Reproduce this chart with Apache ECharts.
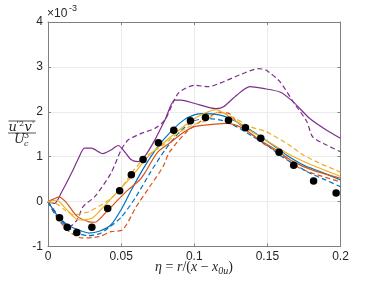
<!DOCTYPE html>
<html><head><meta charset="utf-8">
<script src="https://cdn.jsdelivr.net/npm/echarts@6/dist/echarts.min.js"></script>
<style>html,body{margin:0;padding:0;background:#fff}#c{width:376px;height:282px}</style>
</head><body><div id="c"></div>
<script>
// values in units of 1e-3
const xTicks = ['0', '0.05', '0.1', '0.15', '0.2'];
const yTicks = ['-1', '0', '1', '2', '3', '4'];

const etaDots = [0.0079,0.0131,0.0197,0.030,0.0408,0.049,0.057,0.065,0.0755,0.086,0.0974,0.1077,0.1234,0.135,0.1455,0.158,0.168,0.1816,0.197];
const valDots = [-0.36,-0.57,-0.69,-0.57,-0.155,0.24,0.60,0.94,1.31,1.59,1.80,1.875,1.81,1.645,1.41,1.10,0.81,0.46,0.19];

const etaBlueS = [0,0.005,0.01,0.015,0.02,0.028,0.035,0.043,0.05,0.057,0.066,0.075,0.084,0.093,0.1,0.106,0.117,0.129,0.14,0.152,0.163,0.175,0.186,0.2];
const valBlueS = [0,-0.25,-0.45,-0.55,-0.62,-0.70,-0.66,-0.52,-0.18,0.26,0.78,1.22,1.56,1.82,1.93,1.96,1.93,1.78,1.56,1.30,1.04,0.81,0.67,0.48];

const etaBlueD = [0,0.005,0.01,0.015,0.02,0.027,0.035,0.04,0.05,0.06,0.07,0.08,0.09,0.1,0.11,0.12,0.13,0.14,0.15,0.16,0.17,0.18,0.19,0.2];
const valBlueD = [0,-0.28,-0.48,-0.60,-0.70,-0.76,-0.72,-0.62,-0.35,0.10,0.65,1.15,1.55,1.80,1.85,1.80,1.65,1.45,1.25,1.00,0.80,0.62,0.48,0.33];

const etaOrangeS = [0,0.004,0.0074,0.012,0.02,0.028,0.032,0.0387,0.0467,0.0547,0.0627,0.066,0.075,0.083,0.0935,0.1,0.106,0.122,0.1335,0.1449,0.156,0.1677,0.181,0.2];
const valOrangeS = [0,0.06,0.10,0.0,-0.33,-0.45,-0.46,-0.27,0.0,0.26,0.48,0.63,1.10,1.30,1.56,1.67,1.70,1.74,1.63,1.37,1.15,0.89,0.70,0.52];

const etaOrangeD = [0,0.005,0.01,0.015,0.023,0.035,0.043,0.051,0.0604,0.0695,0.0787,0.083,0.0947,0.106,0.117,0.124,0.129,0.147,0.1586,0.17,0.181,0.2];
const valOrangeD = [0,-0.30,-0.52,-0.68,-0.81,-0.78,-0.67,-0.63,-0.11,0.33,0.78,1.10,1.55,1.82,1.98,1.96,1.78,1.30,1.07,0.78,0.63,0.44];

const etaYellowS = [0,0.006,0.012,0.021,0.03,0.035,0.0467,0.058,0.0695,0.0787,0.088,0.097,0.106,0.115,0.124,0.1346,0.15,0.165,0.18,0.2];
const valYellowS = [0,0.03,-0.15,-0.41,-0.37,-0.22,0.19,0.59,1.04,1.30,1.55,1.78,1.95,2.05,1.89,1.65,1.35,1.05,0.82,0.56];

const etaYellowD = [0,0.006,0.012,0.018,0.025,0.0284,0.04,0.049,0.058,0.067,0.0787,0.09,0.1,0.108,0.117,0.128,0.138,0.149,0.163,0.1745,0.186,0.197,0.2];
const valYellowD = [0,-0.05,-0.20,-0.30,-0.25,-0.22,0.0,0.26,0.67,1.00,1.26,1.55,1.72,1.80,2.00,1.85,1.67,1.56,1.30,1.04,0.85,0.70,0.65];

const etaPurpleS = [0,0.0045,0.009,0.016,0.0204,0.025,0.0296,0.0375,0.043,0.048,0.0524,0.057,0.0615,0.066,0.073,0.08,0.0866,0.091,0.1,0.115,0.12,0.129,0.138,0.147,0.1586,0.1677,0.179,0.1905,0.2];
const valPurpleS = [0,-0.04,0.19,0.63,0.93,1.19,1.19,1.07,1.15,1.25,1.11,0.93,0.89,1.00,1.37,1.82,2.26,2.26,2.19,2.07,2.11,2.37,2.56,2.52,2.44,2.22,1.85,1.59,1.41];

const etaPurpleD = [0,0.008,0.015,0.02,0.024,0.032,0.043,0.05,0.0547,0.0638,0.073,0.08,0.089,0.1,0.1095,0.12,0.131,0.1437,0.149,0.1586,0.1677,0.177,0.181,0.1905,0.2];
const valPurpleD = [0,-0.35,-0.55,-0.40,-0.11,0.11,0.63,1.15,1.37,1.52,1.63,1.82,2.41,2.59,2.56,2.67,2.82,2.96,2.93,2.67,2.22,1.78,1.44,1.26,1.11];

const pair = (xs, ys) => xs.map((x, i) => [x, ys[i]]);
const C = {blue:'#0072BD', orange:'#D95319', yellow:'#EDB120', purple:'#7E2F8E'};

function line(name, xs, ys, color, dashed) {
  return {
    name, type:'line', data: pair(xs, ys), showSymbol:false, smooth:0.25,
    lineStyle:{color, width:1.2, type: dashed ? [5,3] : 'solid'}, z:2, silent:true
  };
}

const SANS = 'Liberation Sans, Arial, Helvetica, sans-serif';
const SERIF = 'DejaVu Serif, Liberation Serif, serif';
const INK = '#262626';
function txt(x, y, s, size, italic, serif) {
  return {type:'text', x, y, style:{text:s, fontSize:size, fontStyle: italic ? 'italic' : 'normal',
    fontFamily: serif ? SERIF : SANS, fill:INK, textVerticalAlign:'middle', textAlign:'left'}};
}

const chart = echarts.init(document.getElementById('c'), null, {renderer:'canvas'});
const tickFont = {fontFamily:SANS, fontSize:12, color:INK};
const axLine = {show:true, onZero:false, lineStyle:{color:'#808080', width:1}};
const tick = {show:true, inside:true, length:3, lineStyle:{color:'#808080'}};
chart.setOption({
  animation:false,
  backgroundColor:'#fff',
  grid:{left:48, right:35.5, top:22, bottom:35.5, containLabel:false},
  xAxis:[{
    type:'value', min:0, max:0.2, interval:0.05, position:'bottom',
    axisLine:axLine, axisTick:tick,
    splitLine:{show:true, lineStyle:{color:'#ebebeb', width:1}},
    axisLabel:Object.assign({margin:4, formatter:(v)=>xTicks[Math.round(v/0.05)]}, tickFont)
  },{
    type:'value', min:0, max:0.2, interval:0.05, position:'top',
    axisLine:axLine, axisTick:tick,
    splitLine:{show:false}, axisLabel:{show:false}
  }],
  yAxis:[{
    type:'value', min:-1, max:4, interval:1, position:'left',
    axisLine:axLine, axisTick:tick,
    splitLine:{show:true, lineStyle:{color:'#ebebeb', width:1}},
    axisLabel:Object.assign({margin:5, formatter:(v)=>yTicks[Math.round(v)+1]}, tickFont)
  },{
    type:'value', min:-1, max:4, interval:1, position:'right',
    axisLine:axLine, axisTick:tick,
    splitLine:{show:false}, axisLabel:{show:false}
  }],
  series:[
    line('purpleS', etaPurpleS, valPurpleS, C.purple, false),
    line('purpleD', etaPurpleD, valPurpleD, C.purple, true),
    line('orangeD', etaOrangeD, valOrangeD, C.orange, true),
    line('blueD', etaBlueD, valBlueD, C.blue, true),
    line('blueS', etaBlueS, valBlueS, C.blue, false),
    line('yellowD', etaYellowD, valYellowD, C.yellow, true),
    line('orangeS', etaOrangeS, valOrangeS, C.orange, false),
    line('yellowS', etaYellowS, valYellowS, C.yellow, false),
    {type:'scatter', data:pair(etaDots, valDots), symbol:'circle', symbolSize:7.5,
     itemStyle:{color:'#000', opacity:1}, z:5, silent:true}
  ],
  graphic:[
    txt(47, 14, '×10', 12, false, false),
    txt(69, 9, '-3', 9, false, false),
    // y label: overline(u'^2 v') / U_c^3
    txt(8.5, 128, 'u', 13, true, true),
    txt(16.5, 123.5, "'", 8, false, true),
    txt(19, 123.5, '2', 8, false, true),
    txt(24.5, 128, 'v', 13, true, true),
    txt(32, 123.5, "'", 8, false, true),
    {type:'line', shape:{x1:8.5, y1:121, x2:35.5, y2:121}, style:{stroke:INK, lineWidth:0.8}},
    {type:'line', shape:{x1:8, y1:133, x2:36, y2:133}, style:{stroke:INK, lineWidth:0.8}},
    txt(14, 139.5, 'U', 13, true, true),
    txt(24, 136, '3', 8, false, true),
    txt(24, 143.5, 'c', 8, true, true),
    // x label
    {type:'text', x:194, y:267, style:{
      text:'{i|η} {n|=} {i|r}{n|/(}{i|x}{n| − }{i|x}{s|0u}{n|)}',
      textAlign:'center', textVerticalAlign:'middle',
      rich:{
        i:{fontSize:14, fontStyle:'italic', fontFamily:'Liberation Serif, serif', fill:INK},
        n:{fontSize:14, fontFamily:'Liberation Serif, serif', fill:INK},
        s:{fontSize:10, fontStyle:'italic', fontFamily:'Liberation Serif, serif', fill:INK, padding:[8,0,0,0]}
      },
      fontSize:14, fontFamily:'Liberation Serif, serif', fill:INK
    }}
  ]
});
</script></body></html>
